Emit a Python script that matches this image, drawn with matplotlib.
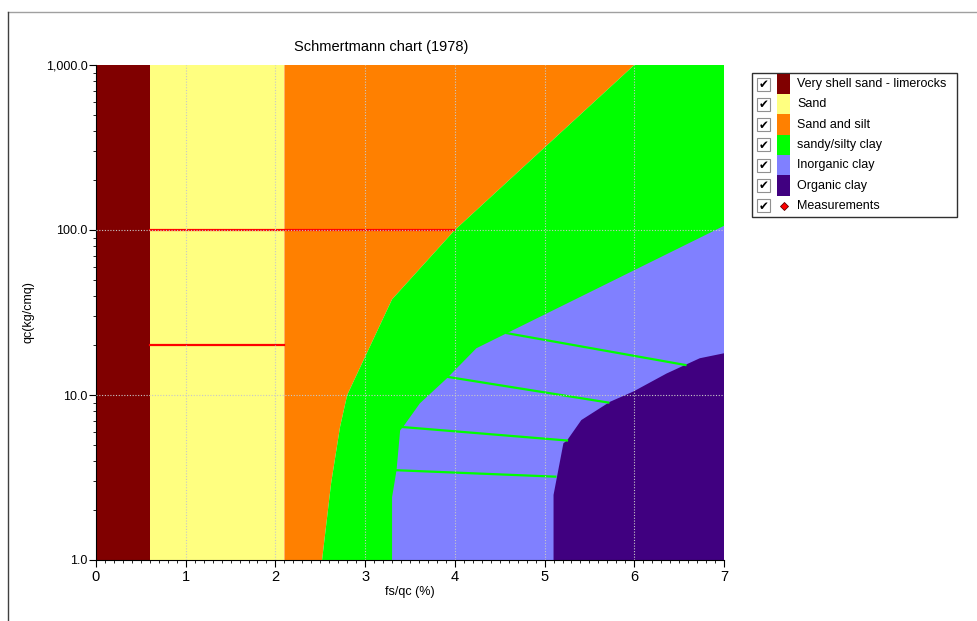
"""
Schmertmann chart (1978) - fs/qc vs qc classification zones.
Output -> out.png
"""
import numpy as np
import matplotlib
matplotlib.use("Agg")
import matplotlib.pyplot as plt
from matplotlib.lines import Line2D
from matplotlib.patches import Rectangle, Polygon

plt.rcParams['font.family'] = ['Liberation Sans', 'DejaVu Sans']

# zone colours / names
NAMES = ["Very shell sand - limerocks", "Sand", "Sand and silt",
         "sandy/silty clay", "Inorganic clay", "Organic clay"]
COLORS = ["#800000", "#FFFF80", "#FF8000", "#00FF00", "#8080FF", "#400080"]

# vertical limits of first zones (fs/qc %)
SHELL_MAX = 0.6
SAND_MAX = 2.1

# boundary Sand and silt / sandy-silty clay
BND1_X = [2.52, 2.62, 2.72, 2.80, 3.02, 3.30, 4.00, 6.00]
BND1_Q = [1.0, 2.9, 6.4, 10.0, 18.0, 38.0, 100.0, 1000.0]

# boundary sandy-silty clay / inorganic clay
BND2_X = [3.30, 3.30, 3.35, 3.39, 3.44, 3.61, 3.91, 4.24, 4.58, 7.00]
BND2_Q = [1.0, 2.4, 3.5, 6.1, 6.6, 8.9, 12.6, 19.2, 23.7, 106.0]

# boundary inorganic clay / organic clay
BND3_X = [5.10, 5.10, 5.21, 5.25, 5.41, 5.73, 5.99, 6.36, 6.73, 7.00]
BND3_Q = [1.0, 2.48, 5.1, 5.3, 7.05, 9.1, 10.5, 13.5, 16.7, 17.9]

# sub-zone lines inside inorganic clay
GLINE_X = [[4.58, 6.57], [3.91, 5.71], [3.41, 5.25], [3.35, 5.12]]
GLINE_Q = [[23.7, 15.2], [12.9, 9.0], [6.4, 5.3], [3.5, 3.2]]

# density lines in sand (red)
RLINE_X = [[0.6, 4.0], [0.6, 2.1]]
RLINE_Q = [[100.0, 100.0], [20.0, 20.0]]

XMIN, XMAX = 0.0, 7.0
QMIN, QMAX = 1.0, 1000.0


def main():
    W, H = 977, 621
    fig = plt.figure(figsize=(W / 100, H / 100), dpi=100)
    ax = fig.add_axes([96 / W, 1 - 560 / H, (724 - 96) / W, (560 - 65) / H])

    # zones
    ax.add_patch(Rectangle((XMIN, QMIN), SHELL_MAX - XMIN, QMAX - QMIN,
                           color=COLORS[0], lw=0))
    ax.add_patch(Rectangle((SHELL_MAX, QMIN), SAND_MAX - SHELL_MAX, QMAX - QMIN,
                           color=COLORS[1], lw=0))
    orange = [(SAND_MAX, QMIN)] + list(zip(BND1_X, BND1_Q)) + [(SAND_MAX, QMAX)]
    ax.add_patch(Polygon(orange, closed=True, color=COLORS[2], lw=0))
    green = list(zip(BND1_X, BND1_Q)) + [(XMAX, QMAX), (XMAX, QMIN)]
    ax.add_patch(Polygon(green, closed=True, color=COLORS[3], lw=0))
    blue = list(zip(BND2_X, BND2_Q)) + [(XMAX, QMIN)]
    ax.add_patch(Polygon(blue, closed=True, color=COLORS[4], lw=0))
    purple = list(zip(BND3_X, BND3_Q)) + [(XMAX, QMIN)]
    ax.add_patch(Polygon(purple, closed=True, color=COLORS[5], lw=0))

    for xs, qs in zip(GLINE_X, GLINE_Q):
        ax.plot(xs, qs, color="#00FF00", lw=1.6, zorder=2)
    for xs, qs in zip(RLINE_X, RLINE_Q):
        ax.plot(xs, qs, color="#FF0000", lw=1.6, zorder=2)

    ax.set_yscale("log")
    ax.set_xlim(XMIN, XMAX); ax.set_ylim(QMIN, QMAX)
    ax.set_yticks([1, 10, 100, 1000])
    ax.set_yticklabels(["{:,.1f}".format(v) for v in [1, 10, 100, 1000]])
    ax.set_xticks(range(8))
    ax.set_xticks(np.arange(0, 7.01, 0.1), minor=True)
    ax.tick_params(axis="x", which="major", labelsize=10.5, length=5, pad=2)
    ax.tick_params(axis="y", which="major", labelsize=9, length=5, pad=1)
    ax.tick_params(which="minor", length=2.5)
    ax.tick_params(axis="y", which="minor", labelleft=False)

    ax.set_axisbelow(False)
    for v in range(1, 7):
        ax.axvline(v, color="#c8c8c8", lw=0.8, ls=(0, (1, 1.5)), zorder=3)
    for v in (10, 100):
        ax.axhline(v, color="#c8c8c8", lw=0.8, ls=(0, (1, 1.5)), zorder=3)

    for s in ("top", "right"):
        ax.spines[s].set_visible(False)

    fig.text(381 / W, 1 - 47 / H, "Schmertmann chart (1978)", fontsize=10.5,
             ha="center", va="center")
    ax.set_xlabel("fs/qc (%)", fontsize=9, labelpad=2)
    ax.set_ylabel("qc(kg/cmq)", fontsize=9)
    ax.yaxis.set_label_coords((35 - 96) / 628, 0.5)

    # figure frame lines
    fig.add_artist(Line2D([8 / W, 1], [1 - 12 / H, 1 - 12 / H],
                          color="#a0a0a0", lw=1, transform=fig.transFigure))
    fig.add_artist(Line2D([8 / W, 8 / W], [0, 1 - 12 / H],
                          color="#404040", lw=1, transform=fig.transFigure))

    # legend drawn by hand (checkbox + swatch + label)
    lg = fig.add_axes([0, 0, 1, 1], facecolor="none")
    lg.set_xlim(0, W); lg.set_ylim(H, 0); lg.axis("off")
    lg.add_patch(Rectangle((752, 73), 205, 144, fill=False, ec="#303030", lw=1))
    labels = NAMES + ["Measurements"]
    for i, lab in enumerate(labels):
        yc = 84 + i * 20.3
        lg.add_patch(Rectangle((757, yc - 6.5), 13, 13, fc="white",
                               ec="#909090", lw=0.8))
        lg.text(763.5, yc + 0.5, "\u2714", ha="center", va="center",
                fontsize=8.5, color="black", family="DejaVu Sans")
        if i < len(NAMES):
            lg.add_patch(Rectangle((777, yc - 10.2), 13, 20.4,
                                   fc=COLORS[i], lw=0))
        else:
            lg.plot([783.5], [yc], marker="D", ms=4, mfc="#FF0000",
                    mec="#600000", mew=0.6)
        lg.text(797, yc, lab, ha="left", va="center", fontsize=9)

    fig.savefig("out.png", dpi=100)
    plt.close(fig)


if __name__ == "__main__":
    main()
